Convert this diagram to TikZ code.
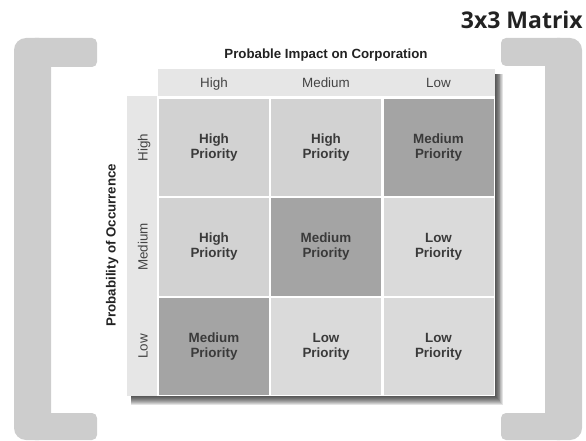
\documentclass[tikz,border=0pt]{standalone}
\usepackage{fontspec}
\setmainfont{Liberation Sans}
\newfontfamily\titlefont{Open Sans}
\definecolor{bracketgray}{HTML}{CDCDCD}
\definecolor{headfill}{HTML}{E6E6E6}
\definecolor{hicol}{HTML}{D2D2D2}
\definecolor{medcol}{HTML}{A4A4A4}
\definecolor{locol}{HTML}{DADADA}
\definecolor{celltext}{HTML}{3A3A3A}
\definecolor{headtext}{HTML}{444444}
\definecolor{axistext}{HTML}{222222}
\begin{document}
\begin{tikzpicture}[x=1pt,y=-1pt]
\useasboundingbox (0,0) rectangle (586,441);
\tikzset{
  bracket/.style={fill=bracketgray},
  cell/.style={minimum width=110pt, minimum height=97.5pt, inner sep=0pt,
    font=\fontsize{13.4}{15}\selectfont\bfseries, text=celltext, align=center},
  hi/.style={cell, fill=hicol},
  med/.style={cell, fill=medcol},
  lo/.style={cell, fill=locol},
  colhead/.style={font=\fontsize{13.4}{15}\selectfont, text=headtext, inner sep=0pt},
  rowhead/.style={colhead, rotate=90},
  axislabel/.style={font=\fontsize{13.3}{15}\selectfont\bfseries, text=axistext, inner sep=0pt},
}
% brackets
\fill[bracket, rounded corners=12pt] (14,38) rectangle (51,440);
\fill[bracket, rounded corners=5pt] (30,38) rectangle (97,67);
\fill[bracket, rounded corners=5pt] (30,413) rectangle (97,440);
\fill[bracket, rounded corners=12pt] (545,38) rectangle (582,440);
\fill[bracket, rounded corners=5pt] (501,38) rectangle (565,66);
\fill[bracket, rounded corners=5pt] (501,413) rectangle (565,440);
% title
\node[font=\titlefont\fontsize{23}{26}\selectfont\bfseries, text=axistext, anchor=base east, inner sep=0pt] (title) at (583,28.5) {3x3 Matrix};
% shadow
\foreach \k in {1,...,9} {
  \fill[black, opacity=0.11] (131,74) rectangle (495+0.9*\k, 396+\k);
}
% matrix background
\fill[white] (127,69) rectangle (495,396);
\fill[headfill] (158,69) rectangle (495,96);
\fill[headfill] (127,96) rectangle (157,396);
% axis labels
\node[axislabel, anchor=base] (xaxis) at (326,58.5) {Probable Impact on Corporation};
\node[axislabel, anchor=base, rotate=90] (yaxis) at (115.5,245) {Probability of Occurrence};
% column heads
\node[colhead, anchor=base] (cH) at (214,87.5) {High};
\node[colhead, anchor=base] (cM) at (326,87.5) {Medium};
\node[colhead, anchor=base] (cL) at (438.5,87.5) {Low};
% row heads
\node[rowhead, anchor=base] (rH) at (147.5,147.5) {High};
\node[rowhead, anchor=base] (rM) at (147.5,247) {Medium};
\node[rowhead, anchor=base] (rL) at (147.5,346.5) {Low};
% cells
\node[hi]  (c11) at (214,147.5) {High\\Priority};
\node[hi]  (c12) at (326,147.5) {High\\Priority};
\node[med] (c13) at (438.5,147.5) {Medium\\Priority};
\node[hi]  (c21) at (214,247) {High\\Priority};
\node[med] (c22) at (326,247) {Medium\\Priority};
\node[lo]  (c23) at (438.5,247) {Low\\Priority};
\node[med] (c31) at (214,346.5) {Medium\\Priority};
\node[lo]  (c32) at (326,346.5) {Low\\Priority};
\node[lo]  (c33) at (438.5,346.5) {Low\\Priority};
\end{tikzpicture}
\end{document}
